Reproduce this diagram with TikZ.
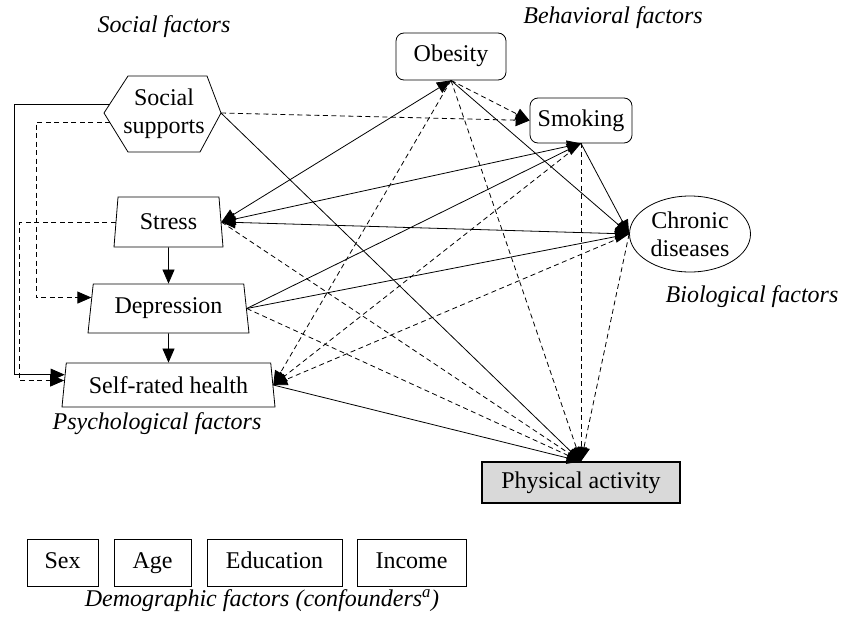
\documentclass[tikz,border=0pt]{standalone}
\usepackage{fontspec}
\setmainfont{Liberation Serif}
\usetikzlibrary{shapes.geometric,arrows.meta,calc}
\begin{document}
\begin{tikzpicture}[x=1pt,y=-1pt,
  font=\fontsize{24}{28}\selectfont,
  edge/.style={line width=0.8pt,draw=black},
  dsh/.style={edge,dash pattern=on 5pt off 3.5pt},
  arr/.style={-{Triangle[length=14pt,width=12pt]}},
  arrboth/.style={{Triangle[length=14pt,width=12pt]}-{Triangle[length=14pt,width=12pt]}},
  rbox/.style={draw,rounded corners=8pt,line width=0.8pt,inner sep=0pt,text height=16pt,text depth=5pt},
  trap/.style={draw,trapezium,trapezium angle=76,trapezium stretches body,inner sep=0pt,line width=0.8pt},
  grp/.style={font=\fontsize{24}{28}\selectfont\itshape,inner sep=0pt},
  demo/.style={draw,line width=1pt,inner sep=0pt,minimum height=47pt,text height=16pt,text depth=5pt}
]
\useasboundingbox (0,0) rectangle (842,626);

% group labels
\node[grp] (lsoc) at (164,27) {Social factors};
\node[grp] (lbeh) at (613,18) {Behavioral factors};
\node[grp] (lbio) at (752,297) {Biological factors};
\node[grp] (lpsy) at (157,424) {Psychological factors};
\node[grp] (ldem) at (262,601) {Demographic factors (confounders\textsuperscript{a})};

% behavioral
\node[rbox,minimum width=110pt,minimum height=47pt] (ob) at (451,56.5) {Obesity};
\node[rbox,minimum width=102pt,minimum height=45pt] (sm) at (581,120.5) {Smoking};
% biological
\node[draw,ellipse,line width=0.8pt,inner sep=0pt,minimum width=121pt,minimum height=76pt,align=center] (cd) at (690,234) {Chronic\\diseases};

% social supports hexagon
\coordinate (ssL) at (104,113);
\coordinate (ssTL) at (128,76);
\coordinate (ssTR) at (207,76);
\coordinate (ssR) at (221,113);
\coordinate (ssBR) at (200,152);
\coordinate (ssBL) at (128,152);
\draw[line width=0.8pt] (ssL) -- (ssTL) -- (ssTR) -- (ssR) -- (ssBR) -- (ssBL) -- cycle;
\node[align=center,inner sep=0pt] (ss) at (164,114) {Social\\supports};
\coordinate (ssW1) at (110,104);
\coordinate (ssW2) at (110,122);

% psychological
\node[trap,minimum width=109pt,minimum height=50pt] (stress) at (168.5,222) {Stress};
\node[trap,minimum width=161pt,minimum height=49pt] (dep) at (168.5,308.5) {Depression};
\node[trap,minimum width=213pt,minimum height=44pt] (srh) at (168.5,385) {Self-rated health};

% outcome
\node[draw,line width=1.3pt,fill=black!15,minimum width=198pt,minimum height=41pt,inner sep=0pt] (pa) at (581,482.5) {Physical activity};

% demographic
\node[demo,minimum width=71pt] (sex) at (62.5,562.5) {Sex};
\node[demo,minimum width=77pt] (age) at (152.5,562.5) {Age};
\node[demo,minimum width=135pt] (edu) at (274.5,562.5) {Education};
\node[demo,minimum width=109pt] (inc) at (411.5,562.5) {Income};

% points on left sides
\coordinate (depL) at ($(dep.top left corner)!0.28!(dep.bottom left corner)$);
\coordinate (srhL1) at ($(srh.top left corner)!0.27!(srh.bottom left corner)$);
\coordinate (srhL2) at ($(srh.top left corner)!0.40!(srh.bottom left corner)$);

% left brackets
\draw[edge,arr] (ssW1) -- ++(-96,0) |- (srhL1);
\draw[dsh,arr] (ssW2) -- ++(-74,0) |- (depL);
\draw[dsh,arr] (stress.left side) -- ++(-96,0) |- (srhL2);

% vertical arrows
\draw[edge,arr] (stress.south) -- (dep.north);
\draw[edge,arr] (dep.south) -- (srh.north);

% solid links
\draw[edge,arrboth] (stress.right side) -- (ob.south);
\draw[edge,arrboth] (stress.right side) -- (sm.south);
\draw[edge,arrboth] (stress.right side) -- (cd.west);
\draw[edge,arr] (dep.right side) -- (sm.south);
\draw[edge,arr] (dep.right side) -- (cd.west);
\draw[edge,arr] (ob.south) -- (cd.west);
\draw[edge,arr] (sm.south) -- (cd.west);
\draw[edge,arr] (ssR) -- (pa.north);
\draw[edge,arr] (srh.right side) -- (pa.north);

% dashed links
\draw[dsh,arr] (ob.south) -- (sm.west);
\draw[dsh,arr] (ssR) -- (sm.west);
\draw[dsh,arr] (ob.south) -- (srh.right side);
\draw[dsh,arr] (sm.south) -- (srh.right side);
\draw[dsh,arr] (cd.west) -- (srh.right side);
\draw[dsh,arr] (ob.south) -- (pa.north);
\draw[dsh,arr] (sm.south) -- (pa.north);
\draw[dsh,arr] (cd.west) -- (pa.north);
\draw[dsh,arr] (stress.right side) -- (pa.north);
\draw[dsh,arr] (dep.right side) -- (pa.north);
\end{tikzpicture}
\end{document}
